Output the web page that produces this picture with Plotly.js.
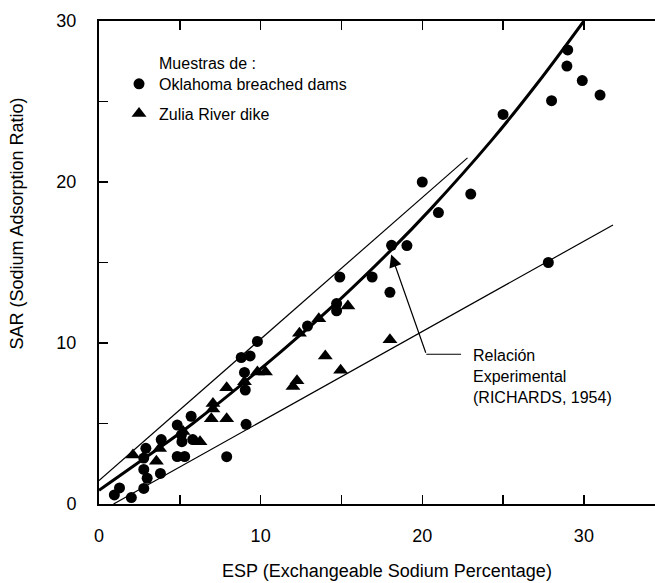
<!DOCTYPE html>
<html>
<head>
<meta charset="utf-8">
<script src="https://cdn.plot.ly/plotly-3.0.1.min.js"></script>
<style>html,body{margin:0;padding:0;background:#fff;}#chart{width:655px;height:583px;}</style>
</head>
<body>
<div id="chart"></div>
<script>
// Oklahoma breached dams (ESP, SAR)
const okEsp = [0.95, 1.27, 2.0, 2.77, 2.98, 2.77, 3.8, 2.77, 2.9, 3.85, 4.84, 5.3, 4.84, 5.1, 5.13, 5.7, 5.8, 7.9, 9.1, 9.05, 9.0, 8.8, 9.35, 9.8, 12.9, 14.7, 14.7, 14.9, 16.9, 18.0, 18.1, 19.05, 20.0, 21.0, 23.0, 25.0, 28.0, 29.0, 28.95, 29.9, 31.0, 27.8];
const okSar = [0.56, 1.0, 0.4, 0.97, 1.6, 2.15, 1.9, 2.85, 3.46, 4.0, 2.95, 2.95, 4.9, 4.3, 3.87, 5.45, 4.0, 2.94, 4.95, 7.08, 8.17, 9.1, 9.2, 10.1, 11.05, 12.45, 12.0, 14.1, 14.1, 13.15, 16.07, 16.05, 20.0, 18.1, 19.25, 24.2, 25.05, 28.2, 27.2, 26.3, 25.4, 15.0];

// Zulia River dike (ESP, SAR)
const zuEsp = [2.1, 3.55, 3.75, 5.2, 6.25, 6.95, 7.05, 7.05, 7.9, 7.9, 9.0, 9.8, 10.3, 12.0, 12.25, 12.4, 13.6, 14.0, 14.95, 15.4, 18.0];
const zuSar = [3.05, 2.65, 3.45, 4.5, 3.87, 5.3, 6.25, 5.9, 5.3, 7.22, 7.6, 8.2, 8.2, 7.3, 7.65, 10.6, 11.5, 9.2, 8.3, 12.3, 10.2];

// Experimental relation curve (Richards, 1954)
const curveEsp = [0, 2.9, 5.8, 11.3, 14.9, 18.1, 20.5, 24.3, 27.1, 30.0];
const curveSar = [0.85, 2.9, 5.0, 9.5, 12.7, 15.8, 18.3, 22.6, 26.1, 30.0];

// Envelope lines
const upperEsp = [0, 22.8];
const upperSar = [1.45, 21.5];
const lowerEsp = [0.9, 31.8];
const lowerSar = [0, 17.33];

// Axis ticks
const tickVals = [0, 5, 10, 15, 20, 25, 30];
const tickText = ['0', '', '10', '', '20', '', '30'];

const FONT = 'Liberation Sans, Arial, sans-serif';

const traces = [
  {x: upperEsp, y: upperSar, mode: 'lines', line: {color: '#000', width: 1.2}, showlegend: false, hoverinfo: 'skip'},
  {x: lowerEsp, y: lowerSar, mode: 'lines', line: {color: '#000', width: 1.2}, showlegend: false, hoverinfo: 'skip'},
  {x: curveEsp, y: curveSar, mode: 'lines', line: {color: '#000', width: 3, shape: 'spline', smoothing: 1}, showlegend: false, hoverinfo: 'skip'},
  {x: okEsp, y: okSar, mode: 'markers', name: 'Oklahoma breached dams', legendgroup: 'a',
   marker: {symbol: 'circle', size: 11, color: '#000'}},
  {x: zuEsp, y: zuSar, mode: 'markers', name: 'Zulia River dike', legendgroup: 'b',
   marker: {symbol: 'triangle-up', size: 13, color: '#000'}}
];

const layout = {
  width: 655, height: 583,
  margin: {l: 99, r: 0, t: 21, b: 79},
  paper_bgcolor: '#fff', plot_bgcolor: '#fff',
  font: {family: FONT, color: '#000', size: 18},
  showlegend: true,
  legend: {x: 0.036, xanchor: 'left', y: 0.905, yanchor: 'top', bgcolor: 'rgba(0,0,0,0)',
           font: {family: FONT, size: 16, color: '#000'}, tracegroupgap: 6, traceorder: 'grouped'},
  xaxis: {range: [0, 34.4], tickmode: 'array', tickvals: tickVals, ticktext: tickText,
          ticks: 'inside', ticklen: 9, tickwidth: 1.5, tickcolor: '#000',
          showline: true, linewidth: 2, linecolor: '#000', mirror: 'ticks',
          showgrid: false, zeroline: false, ticklabelstandoff: 14,
          tickfont: {family: FONT, size: 18, color: '#000'}},
  yaxis: {range: [0, 30], tickmode: 'array', tickvals: tickVals, ticktext: tickText,
          ticks: 'inside', ticklen: 9, tickwidth: 1.5, tickcolor: '#000',
          showline: true, linewidth: 2, linecolor: '#000', mirror: false,
          showgrid: false, zeroline: false, ticklabelstandoff: 17,
          tickfont: {family: FONT, size: 18, color: '#000'}},
  shapes: [
    {type: 'line', xref: 'x', yref: 'y', x0: 20.25, y0: 9.3, x1: 22.4, y1: 9.3, line: {color: '#000', width: 1.2}}
  ],
  annotations: [
    {xref: 'paper', yref: 'paper', x: 0.5 + 10/556, y: -0.138, yanchor: 'middle', xanchor: 'center', showarrow: false,
     text: 'ESP (Exchangeable Sodium Percentage)', font: {family: FONT, size: 18, color: '#000'}},
    {xref: 'paper', yref: 'paper', x: -0.148, y: 0.58, xanchor: 'center', yanchor: 'middle', showarrow: false, textangle: -90,
     text: 'SAR (Sodium Adsorption Ratio)', font: {family: FONT, size: 18, color: '#000'}},
    {xref: 'x', yref: 'y', x: 3.6, y: 27.35, xanchor: 'left', yanchor: 'middle', showarrow: false,
     text: 'Muestras de :', font: {family: FONT, size: 16, color: '#000'}},
    {xref: 'x', yref: 'y', x: 23.0, y: 9.9, xanchor: 'left', yanchor: 'top', align: 'left', showarrow: false,
     text: 'Relación<br>Experimental<br>(RICHARDS, 1954)', font: {family: FONT, size: 16, color: '#000'}},
    {xref: 'x', yref: 'y', x: 18.08, y: 15.5, axref: 'x', ayref: 'y', ax: 20.25, ay: 9.3,
     showarrow: true, arrowhead: 2, arrowsize: 2.1, arrowwidth: 1.2, arrowcolor: '#000', standoff: 0, text: ''}
  ]
};

Plotly.newPlot('chart', traces, layout, {displayModeBar: false, staticPlot: true});
</script>
</body>
</html>
